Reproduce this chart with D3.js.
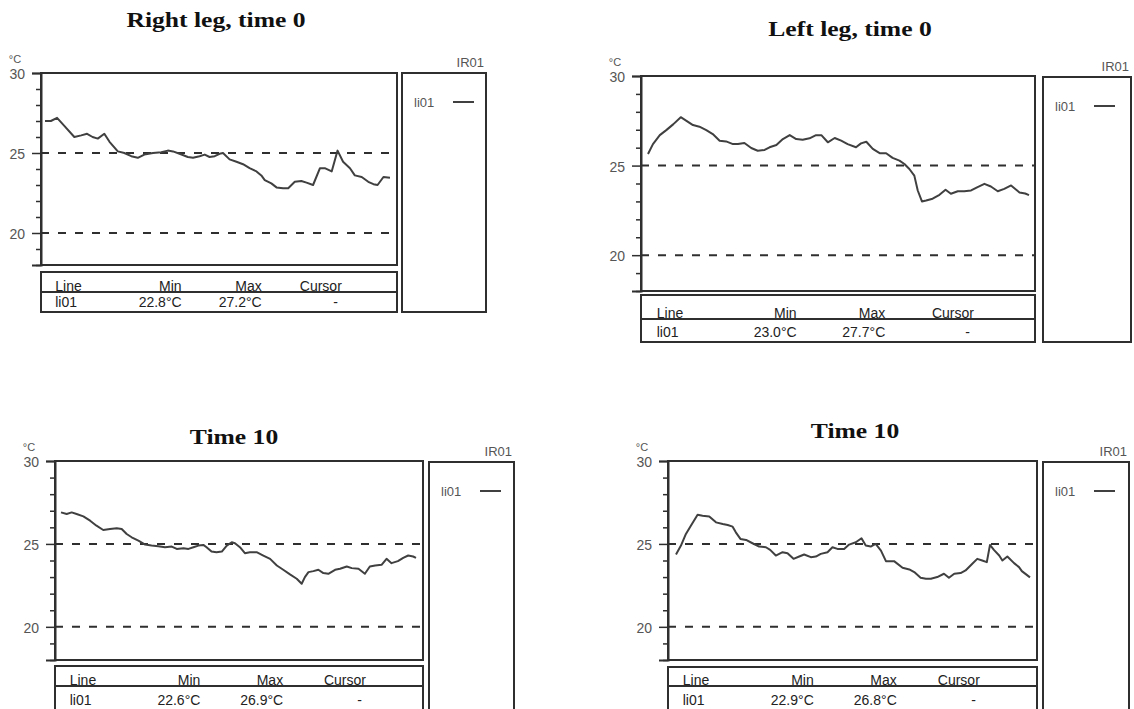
<!DOCTYPE html>
<html>
<head>
<meta charset="utf-8">
<script src="https://cdn.jsdelivr.net/npm/d3@7"></script>
<style>
  body { margin: 0; background: #fff; }
</style>
</head>
<body>
<div id="my_dataviz"></div>
<script>
// titles and table values for the four thermal line profiles
var titles = ["Right leg, time 0", "Left leg, time 0", "Time 10", "Time 10"];
var minTemps = ["22.8", "23.0", "22.6", "22.9"];
var maxTemps = ["27.2", "27.7", "26.9", "26.8"];
var tableHeader = ["Line", "Min", "Max", "Cursor"];
var lineName = "li01";
var imageName = "IR01";
var yTicksMajor = [20, 25, 30];
var yTicksMinor = [18, 19, 21, 22, 23, 24, 26, 27, 28, 29];
var refLines = [20, 25];

// position along the line (0-100) and temperature
var pos1 = [0,1.7,3.5,5.6,8.5,10.5,12.2,13.8,15.3,17.2,18.7,21.1,23.0,25.0,26.9,28.8,31.3,33.7,35.6,37.1,39.0,41.4,42.9,44.8,46.3,47.7,49.2,50.6,51.6,53.5,55.5,57.4,59.3,61.3,62.7,63.7,65.6,67.1,69.0,70.5,72.4,74.3,75.8,77.7,79.7,81.1,83.1,84.8,86.4,88.4,89.8,91.8,93.7,95.2,96.4,98.1,100];
var temp1 = [27.0,27.0,27.2,26.7,26.0,26.1,26.2,26.0,25.9,26.2,25.7,25.1,25.0,24.8,24.7,24.9,25.0,25.05,25.15,25.1,24.95,24.75,24.7,24.8,24.9,24.75,24.8,24.95,25.0,24.6,24.45,24.3,24.05,23.85,23.6,23.3,23.1,22.85,22.8,22.8,23.2,23.25,23.15,23.0,24.05,24.05,23.85,25.15,24.45,24.05,23.6,23.5,23.2,23.05,23.0,23.5,23.45];

var pos2 = [0,1.3,3.1,4.8,6.6,8.6,10.1,11.8,13.5,15.3,17.0,18.8,20.5,22.3,23.6,25.3,27.1,28.8,30.6,31.9,33.7,35.4,37.2,38.9,40.6,42.4,44.1,45.5,47.2,49.0,50.7,52.4,54.6,55.9,57.3,59.0,60.8,62.5,64.2,66.0,67.3,68.6,69.9,70.8,71.9,73.0,74.7,76.5,78.1,79.5,81.3,83.0,84.8,86.5,88.3,90.0,91.8,93.5,95.3,97.5,99.0,100];
var temp2 = [25.65,26.2,26.7,26.98,27.3,27.7,27.5,27.26,27.17,26.98,26.76,26.39,26.35,26.2,26.2,26.26,25.98,25.83,25.87,26.02,26.15,26.48,26.7,26.48,26.44,26.52,26.7,26.7,26.3,26.54,26.39,26.2,26.02,26.24,26.33,25.93,25.69,25.69,25.43,25.28,25.09,24.81,24.44,23.61,23.0,23.05,23.15,23.37,23.65,23.43,23.57,23.57,23.61,23.8,23.98,23.83,23.57,23.7,23.89,23.5,23.44,23.35];

var pos3 = [0,1.6,3.0,4.4,6.3,8.2,10.0,11.9,13.8,15.7,17.1,18.5,19.9,21.8,23.7,25.5,27.4,29.3,31.2,32.6,34.5,35.9,37.3,38.7,40.1,41.0,42.4,43.8,45.3,46.7,48.1,49.0,50.4,51.8,53.2,55.1,57.0,58.9,60.8,62.6,64.5,66.4,67.8,68.7,69.7,71.1,72.5,73.9,75.3,77.2,78.6,80.5,81.9,83.8,85.6,87.0,88.5,90.3,91.7,93.1,94.9,96.4,97.8,99.2,100];
var temp3 = [26.9,26.8,26.9,26.8,26.66,26.4,26.1,25.84,25.9,25.94,25.9,25.6,25.4,25.2,24.96,24.9,24.86,24.8,24.84,24.7,24.74,24.7,24.8,24.9,24.94,24.8,24.54,24.5,24.54,24.9,25.1,25.04,24.8,24.44,24.5,24.5,24.3,24.1,23.7,23.44,23.16,22.9,22.6,23.0,23.3,23.36,23.44,23.24,23.2,23.44,23.5,23.64,23.54,23.5,23.2,23.64,23.7,23.74,24.1,23.84,23.96,24.16,24.3,24.24,24.16];

var pos4 = [0,1.4,2.8,4.2,6.1,7.5,9.4,11.3,13.2,14.6,16.0,16.9,18.2,19.8,21.6,23.5,25.4,26.6,28.2,30.1,31.5,33.2,34.8,36.2,38.1,39.5,40.9,42.8,44.2,45.6,47.5,48.9,50.8,52.4,53.6,55.0,56.4,57.9,59.3,61.6,64.0,65.9,67.3,69.1,70.6,72.0,73.8,75.7,77.1,78.6,80.4,81.8,83.7,85.1,86.5,87.8,88.7,89.8,91.3,92.2,93.6,95.5,96.9,97.7,100];
var temp4 = [24.36,24.9,25.6,26.1,26.76,26.7,26.66,26.3,26.2,26.14,26.04,25.7,25.3,25.24,25.04,24.84,24.8,24.64,24.3,24.5,24.44,24.1,24.24,24.36,24.2,24.24,24.4,24.5,24.8,24.7,24.7,24.96,25.1,25.34,24.9,24.84,25.0,24.6,23.96,23.96,23.56,23.46,23.3,22.96,22.9,22.9,23.0,23.2,22.96,23.2,23.24,23.4,23.8,24.1,24.0,23.9,24.94,24.64,24.3,24.0,24.24,23.84,23.6,23.36,22.98];

var positions = [pos1, pos2, pos3, pos4];
var temps = [temp1, temp2, temp3, temp4];

// layout of each panel on the page (pixels)
var layout = [
  {fx0: 41,  fx1: 397,  yTop: 73,  yBot: 265, lx0: 45,  lx1: 390,  ty0: 272, tsep: 292, ty1: 312, rowY: 307, gx0: 402,  gx1: 486,  gy0: 73,  gy1: 312, tcx: 216, tcy: 27},
  {fx0: 641, fx1: 1035, yTop: 76,  yBot: 291, lx0: 648, lx1: 1029, ty0: 295, tsep: 319, ty1: 342, rowY: 337, gx0: 1043, gx1: 1131, gy0: 77,  gy1: 342, tcx: 850, tcy: 36},
  {fx0: 55,  fx1: 423,  yTop: 461, yBot: 660, lx0: 61,  lx1: 416,  ty0: 666, tsep: 686, ty1: 716, rowY: 705, gx0: 429,  gx1: 514,  gy0: 462, gy1: 716, tcx: 234, tcy: 444},
  {fx0: 668, fx1: 1037, yTop: 461, yBot: 660, lx0: 676, lx1: 1030, ty0: 667, tsep: 686, ty1: 716, rowY: 705, gx0: 1043, gx1: 1129, gy0: 462, gy1: 716, tcx: 855, tcy: 438}
];

var frameColor = "#2f2f2f";
var textGray = "#555";
var sansFont = "'Liberation Sans', Arial, sans-serif";

var svg = d3.select("#my_dataviz")
  .append("svg")
    .attr("width", 1134)
    .attr("height", 709)
    .style("display", "block");

svg.append("rect")
  .attr("width", 1134).attr("height", 709).attr("fill", "#fff");

layout.forEach(function(L, i) {
  var g = svg.append("g");

  var x = d3.scaleLinear().domain([0, 100]).range([L.lx0, L.lx1]);
  var y = d3.scaleLinear().domain([18, 30]).range([L.yBot, L.yTop]);

  // title (the original font is a wide bold serif)
  g.append("text")
    .attr("transform", "translate(" + L.tcx + "," + L.tcy + ") scale(1.22,1)")
    .attr("text-anchor", "middle")
    .style("font-family", "'Liberation Serif', 'Times New Roman', serif")
    .style("font-weight", "bold")
    .style("font-size", "21px")
    .attr("fill", "#111")
    .text(titles[i]);

  // dashed reference lines
  g.selectAll(".ref")
    .data(refLines)
    .enter().append("line")
      .attr("x1", L.fx0).attr("x2", L.fx1)
      .attr("y1", function(d) { return y(d); })
      .attr("y2", function(d) { return y(d); })
      .attr("stroke", frameColor)
      .attr("stroke-width", 2)
      .attr("stroke-dasharray", "8,9");

  // plot frame
  g.append("rect")
    .attr("x", L.fx0).attr("y", y(30))
    .attr("width", L.fx1 - L.fx0).attr("height", y(18) - y(30))
    .attr("fill", "none")
    .attr("stroke", frameColor)
    .attr("stroke-width", 2);

  // minor ticks
  var minor = g.append("g")
    .attr("transform", "translate(" + L.fx0 + ",0)")
    .call(d3.axisLeft(y).tickValues(yTicksMinor).tickSize(5).tickFormat(""));
  minor.select(".domain").remove();
  minor.selectAll("line").attr("stroke", frameColor).attr("stroke-width", 1.5);

  // major ticks with labels
  var major = g.append("g")
    .attr("transform", "translate(" + L.fx0 + ",0)")
    .call(d3.axisLeft(y).tickValues(yTicksMajor).tickSize(9).tickPadding(7));
  major.select(".domain").attr("stroke", frameColor).attr("stroke-width", 2);
  major.selectAll("line").attr("stroke", frameColor).attr("stroke-width", 1.5);
  major.selectAll("text")
    .attr("fill", textGray)
    .attr("dy", "0.4em")
    .style("font-family", sansFont)
    .style("font-size", "14px");

  // unit
  g.append("text")
    .attr("x", L.fx0 - 26).attr("y", y(30) - 10)
    .attr("text-anchor", "middle")
    .attr("fill", textGray)
    .style("font-family", sansFont)
    .style("font-size", "11px")
    .text("°C");

  // temperature line
  var pts = positions[i].map(function(p, k) { return [p, temps[i][k]]; });
  g.append("path")
    .datum(pts)
    .attr("fill", "none")
    .attr("stroke", "#404040")
    .attr("stroke-width", 2)
    .attr("stroke-linejoin", "round")
    .attr("d", d3.line()
      .x(function(d) { return x(d[0]); })
      .y(function(d) { return y(d[1]); })
    );

  // min / max table below the plot
  var tw = L.fx1 - L.fx0;
  g.append("rect")
    .attr("x", L.fx0).attr("y", L.ty0)
    .attr("width", tw).attr("height", L.ty1 - L.ty0)
    .attr("fill", "none").attr("stroke", frameColor).attr("stroke-width", 2);
  g.append("line")
    .attr("x1", L.fx0).attr("x2", L.fx1)
    .attr("y1", L.tsep).attr("y2", L.tsep)
    .attr("stroke", frameColor).attr("stroke-width", 2);

  var colX = [L.fx0 + 0.04 * tw, L.fx0 + 0.395 * tw, L.fx0 + 0.62 * tw, L.fx0 + 0.845 * tw];
  var colAnchor = ["start", "end", "end", "end"];
  var row = [lineName, minTemps[i] + "°C", maxTemps[i] + "°C", "-"];
  tableHeader.forEach(function(h, c) {
    g.append("text")
      .attr("x", colX[c]).attr("y", L.tsep - 1)
      .attr("text-anchor", colAnchor[c])
      .attr("fill", "#222")
      .style("font-family", sansFont).style("font-size", "14px")
      .text(h);
    g.append("text")
      .attr("x", c == 3 ? colX[c] - 4 : colX[c]).attr("y", L.rowY)
      .attr("text-anchor", colAnchor[c])
      .attr("fill", "#222")
      .style("font-family", sansFont).style("font-size", "14px")
      .text(row[c]);
  });

  // legend box
  g.append("rect")
    .attr("x", L.gx0).attr("y", L.gy0)
    .attr("width", L.gx1 - L.gx0).attr("height", L.gy1 - L.gy0)
    .attr("fill", "none").attr("stroke", frameColor).attr("stroke-width", 2);
  g.append("text")
    .attr("x", L.gx1 - 2).attr("y", L.gy0 - 6)
    .attr("text-anchor", "end")
    .attr("fill", textGray)
    .style("font-family", sansFont).style("font-size", "13px")
    .text(imageName);
  g.append("text")
    .attr("x", L.gx0 + 12).attr("y", L.gy0 + 34)
    .attr("fill", textGray)
    .style("font-family", sansFont).style("font-size", "13px")
    .text(lineName);
  g.append("line")
    .attr("x1", L.gx0 + 51).attr("x2", L.gx0 + 72)
    .attr("y1", L.gy0 + 29).attr("y2", L.gy0 + 29)
    .attr("stroke", "#404040").attr("stroke-width", 2);
});
</script>
</body>
</html>
